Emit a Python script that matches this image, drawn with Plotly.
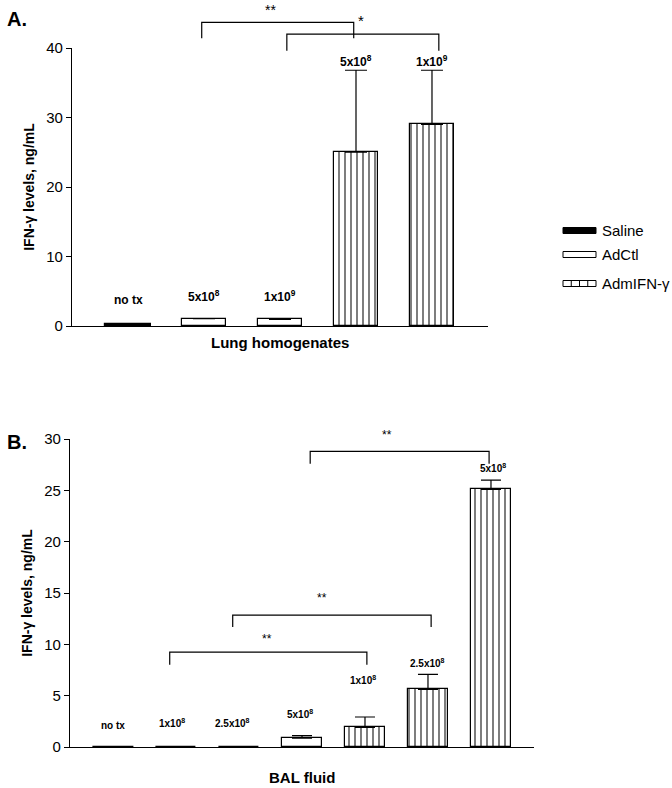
import plotly.graph_objects as go

# ---------------- data ----------------
groups = ["Saline", "AdCtl", "AdmIFN-\u03b3"]

# Panel A: Lung homogenates
a_labels = ["no tx", "5x10<sup>8</sup>", "1x10<sup>9</sup>", "5x10<sup>8</sup>", "1x10<sup>9</sup>"]
a_saline_x = [0]
a_saline = [0.3]
a_adctl_x = [1, 2]
a_adctl = [1.05, 0.95]
a_adctl_err = [0.0, 0.0]
a_adifn_x = [3, 4]
a_adifn = [25.0, 29.0]
a_adifn_err = [11.8, 7.8]

# Panel B: BAL fluid
b_labels = ["no tx", "1x10<sup>8</sup>", "2.5x10<sup>8</sup>", "5x10<sup>8</sup>",
            "1x10<sup>8</sup>", "2.5x10<sup>8</sup>", "5x10<sup>8</sup>"]
b_saline_x = [0]
b_saline = [0.0]
b_adctl_x = [1, 2, 3]
b_adctl = [0.0, 0.0, 0.85]
b_adctl_err = [0.0, 0.0, 0.25]
b_adifn_x = [4, 5, 6]
b_adifn = [1.92, 5.62, 25.1]
b_adifn_err = [1.0, 1.45, 0.9]

a_yticks = [0, 10, 20, 30, 40]
b_yticks = [0, 5, 10, 15, 20, 25, 30]

# ---------------- layout constants ----------------
W, H = 672, 788
FONT = "Liberation Sans, Arial, sans-serif"
A_DOM_Y = [1 - 326 / H, 1 - 48 / H]
B_DOM_Y = [1 - 747 / H, 1 - 439 / H]
A_DOM_X = [72 / W, 488 / W]
B_DOM_X = [70 / W, 534 / W]
A_RANGE_Y = [0, 40]
B_RANGE_Y = [0, 30]
A_RANGE_X = [-0.737, 4.737]
B_RANGE_X = [-0.683, 6.683]


def ypap(v, dom, rng):
    return dom[0] + (v - rng[0]) / (rng[1] - rng[0]) * (dom[1] - dom[0])


fig = go.Figure()

line_w = 1.2


def add_bars(x, y, err, kind, xa, ya, width, capw):
    if kind == "Saline":
        marker = dict(color="black", line=dict(color="black", width=line_w))
    elif kind == "AdCtl":
        marker = dict(color="white", line=dict(color="black", width=line_w))
    else:
        marker = dict(color="white", line=dict(color="black", width=line_w),
                      pattern=dict(shape="|", fgcolor="black", bgcolor="white",
                                   size=6, solidity=0.17))
    ey = None
    if err is not None:
        ey = dict(type="data", symmetric=False, array=err, arrayminus=[0] * len(err),
                  color="black", thickness=1.2, width=capw)
    fig.add_trace(go.Bar(x=x, y=y, width=width, marker=marker, error_y=ey,
                         xaxis=xa, yaxis=ya, showlegend=False, name=kind))


add_bars(a_saline_x, a_saline, None, "Saline", "x", "y", 0.6, 11)
add_bars(a_adctl_x, a_adctl, a_adctl_err, "AdCtl", "x", "y", 0.58, 11)
add_bars(a_adifn_x, a_adifn, a_adifn_err, "AdmIFN", "x", "y", 0.58, 11)

add_bars(b_saline_x, b_saline, None, "Saline", "x2", "y2", 0.65, 10)
add_bars(b_adctl_x, b_adctl, b_adctl_err, "AdCtl", "x2", "y2", 0.65, 10)
add_bars(b_adifn_x, b_adifn, b_adifn_err, "AdmIFN", "x2", "y2", 0.65, 10)

axis_common = dict(showgrid=False, zeroline=False, showline=True, linecolor="black",
                   linewidth=1.2, automargin=False)
ytitle = dict(text="<b>IFN-\u03b3 levels, ng/mL</b>", font=dict(family=FONT, size=14, color="black"),
              standoff=8)

fig.update_layout(
    template="none",
    width=W, height=H, autosize=False,
    margin=dict(l=0, r=0, t=0, b=0, pad=0, autoexpand=False),
    paper_bgcolor="white", plot_bgcolor="white",
    showlegend=False,
    bargap=0,
    xaxis=dict(domain=A_DOM_X, range=A_RANGE_X, showticklabels=False, ticks="",
               anchor="y", **axis_common),
    yaxis=dict(domain=A_DOM_Y, range=A_RANGE_Y, tickvals=a_yticks, ticks="outside",
               ticklen=5, tickcolor="black", tickwidth=1.2, anchor="x",
               tickfont=dict(family=FONT, size=15, color="black"),
               title=ytitle, **axis_common),
    xaxis2=dict(domain=B_DOM_X, range=B_RANGE_X, showticklabels=False, ticks="",
                anchor="y2", **axis_common),
    yaxis2=dict(domain=B_DOM_Y, range=B_RANGE_Y, tickvals=b_yticks, ticks="outside",
                ticklen=5, tickcolor="black", tickwidth=1.2, anchor="x2",
                tickfont=dict(family=FONT, size=15, color="black"),
                title=ytitle, **axis_common),
)

ann = []
shapes = []


def txt(x, y, text, size, xref="x", yref="y", bold=True, xanchor="center", yanchor="middle"):
    ann.append(dict(x=x, y=y, xref=xref, yref=yref, text=("<b>%s</b>" % text) if bold else text,
                    showarrow=False, xanchor=xanchor, yanchor=yanchor,
                    font=dict(family=FONT, size=size, color="black")))


# bar labels, panel A
a_lab_x = [0, 1, 2, 3, 4]
a_lab_y = [3.7, 4.3, 4.3, 38.2, 38.2]
for lx, ly, t in zip(a_lab_x, a_lab_y, a_labels):
    txt(lx, ly, t, 12)

# bar labels, panel B
b_lab_x = [0, 0.93, 1.9, 2.97, 3.97, 5.0, 6.03]
b_lab_y = [2.1, 2.3, 2.3, 3.2, 6.5, 8.2, 27.2]
for lx, ly, t in zip(b_lab_x, b_lab_y, b_labels):
    txt(lx, ly, t, 10, xref="x2", yref="y2")


def bracket(x0, x1, ytop, ylo_l, ylo_r, xref, dom, rng):
    yt = ypap(ytop, dom, rng)
    yl = ypap(ylo_l, dom, rng)
    yr = ypap(ylo_r, dom, rng)
    shapes.append(dict(type="path", xref=xref, yref="paper",
                       path="M %f,%f L %f,%f L %f,%f L %f,%f" % (x0, yl, x0, yt, x1, yt, x1, yr),
                       line=dict(color="black", width=1.2)))


# Panel A brackets
bracket(0.97, 2.97, 43.7, 41.4, 41.4, "x", A_DOM_Y, A_RANGE_Y)
bracket(2.09, 4.09, 42.0, 39.6, 39.6, "x", A_DOM_Y, A_RANGE_Y)
txt(1.88, ypap(45.5, A_DOM_Y, A_RANGE_Y), "**", 14, yref="paper", bold=False)
txt(3.07, ypap(43.9, A_DOM_Y, A_RANGE_Y), "*", 15, yref="paper", bold=False)

# Panel B brackets
bracket(3.13, 5.97, 28.8, 27.6, 27.6, "x2", B_DOM_Y, B_RANGE_Y)
bracket(1.9, 5.05, 12.85, 11.7, 11.7, "x2", B_DOM_Y, B_RANGE_Y)
bracket(0.9, 4.03, 9.25, 8.0, 8.0, "x2", B_DOM_Y, B_RANGE_Y)
txt(4.35, ypap(30.4, B_DOM_Y, B_RANGE_Y), "**", 12, xref="x2", yref="paper", bold=False)
txt(3.32, ypap(14.5, B_DOM_Y, B_RANGE_Y), "**", 12, xref="x2", yref="paper", bold=False)
txt(2.44, ypap(10.5, B_DOM_Y, B_RANGE_Y), "**", 12, xref="x2", yref="paper", bold=False)

# panel letters and x titles
txt(5 / W, 1 - 19 / H, "A.", 20, xref="paper", yref="paper", xanchor="left")
txt(5 / W, 1 - 442 / H, "B.", 20, xref="paper", yref="paper", xanchor="left")
txt(280 / W, 1 - 343 / H, "Lung homogenates", 15, xref="paper", yref="paper")
txt(302 / W, 1 - 777 / H, "BAL fluid", 15, xref="paper", yref="paper")

# legend (drawn)
leg_x0, leg_x1 = 563 / W, 596 / W
leg_rows = [230.5, 254.5, 283.5]
for name, yc in zip(groups, leg_rows):
    y0 = 1 - (yc + 3) / H
    y1 = 1 - (yc - 3) / H
    if name == "Saline":
        shapes.append(dict(type="rect", xref="paper", yref="paper", x0=leg_x0, x1=leg_x1,
                           y0=y0, y1=y1, fillcolor="black", line=dict(color="black", width=1)))
    else:
        shapes.append(dict(type="rect", xref="paper", yref="paper", x0=leg_x0, x1=leg_x1,
                           y0=y0, y1=y1, fillcolor="white", line=dict(color="black", width=1)))
        if name != "AdCtl":
            for k in range(1, 4):
                xx = leg_x0 + (leg_x1 - leg_x0) * k / 4
                shapes.append(dict(type="line", xref="paper", yref="paper", x0=xx, x1=xx,
                                   y0=y0, y1=y1, line=dict(color="black", width=1)))
    ann.append(dict(x=600 / W, y=1 - yc / H, xref="paper", yref="paper", text=name,
                    showarrow=False, xanchor="left", yanchor="middle",
                    font=dict(family=FONT, size=15, color="black")))

fig.update_layout(annotations=ann, shapes=shapes)
fig.write_html("out.html",
               config={"displayModeBar": False},
               post_script="document.body.style.margin='0';document.body.style.padding='0';"
                           "document.body.style.overflow='hidden';")
